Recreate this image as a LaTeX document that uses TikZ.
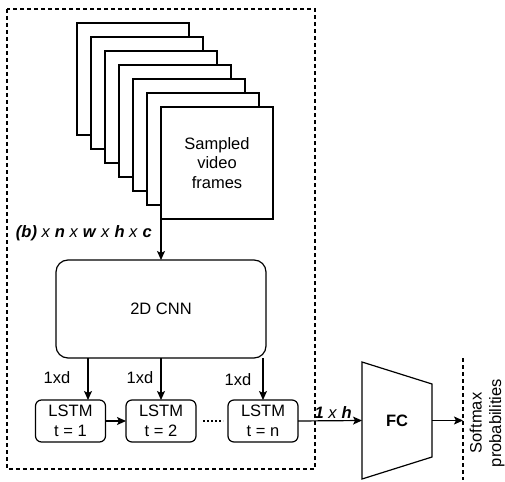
\documentclass[tikz,border=0pt]{standalone}
\usepackage{fontspec}
\setmainfont{Liberation Sans}
\usetikzlibrary{arrows.meta}
\begin{document}
\begin{tikzpicture}[x=1pt,y=-1pt,
  every node/.style={font=\fontsize{16.5}{19.5}\selectfont, inner sep=0pt, outer sep=0pt},
  ln/.style={line width=1.2pt},
  frame/.style={ln, draw, fill=white, minimum size=112pt, align=center},
  cell/.style={ln, draw, rounded corners=6pt, minimum width=70pt, minimum height=42pt, align=center},
  arr/.style={ln, -{Stealth[length=9pt,width=8pt,inset=2pt]}}]
\useasboundingbox (0,0) rectangle (505,481);
\draw[ln, dash pattern=on 4pt off 3pt] (7,9) rectangle (315,469);

\foreach \i in {1,...,6}
  \node[frame] (F\i) at (119+14*\i,65+14*\i) {};
\node[frame] (F7) at (217,163) {Sampled\\video\\frames};
\node[anchor=west] (dims) at (16,233) {\textbf{\textit{(b)}} \textit{x} \textbf{\textit{n}} \textit{x} \textbf{\textit{w}} \textit{x} \textbf{\textit{h}} \textit{x} \textbf{\textit{c}}};

\node[ln, draw, rounded corners=12pt, minimum width=210pt, minimum height=98pt] (CNN) at (161,309) {2D CNN};
\node[cell] (L1) at (70.5,421) {LSTM\\t = 1};
\node[cell] (L2) at (161,421) {LSTM\\t = 2};
\node[cell] (L3) at (263,421) {LSTM\\t = n};
\node (D1) at (57,378) {1xd};
\node (D2) at (140,378) {1xd};
\node (D3) at (238,380) {1xd};

\draw[arr] (F7.south west) -- (CNN.north);
\draw[arr] ([xshift=-73pt]CNN.south) -- ([xshift=17.5pt]L1.north);
\draw[arr] (CNN.south) -- (L2.north);
\draw[arr] (CNN.south -| L3.north) -- (L3.north);
\draw[arr] (L1) -- (L2);
\draw[line width=1.6pt, dash pattern=on 2pt off 2pt, shorten <=7pt, shorten >=5pt] (L2) -- (L3);

\node[minimum width=70pt, minimum height=117pt, font=\fontsize{16.5}{19.5}\selectfont\bfseries] (FC) at (397,420.5) {FC};
\draw[ln] (FC.north west) -- ([yshift=-22pt]FC.north east) -- ([yshift=22pt]FC.south east) -- (FC.south west) -- cycle;
\draw[arr] (L3.east) -- (FC.west) node[pos=0.55, above=2pt] (H) {\textbf{\textit{1}} \textit{x} \textbf{\textit{h}}};

\coordinate (S1) at (463,358);
\coordinate (S2) at (463,480);
\draw[ln, dash pattern=on 4pt off 3pt] (S1) -- (S2);
\draw[arr] (FC.east) -- (FC.east -| S1);
\node[rotate=90, align=center] (SM) at (487,423) {Softmax\\probabilities};
\end{tikzpicture}
\end{document}
